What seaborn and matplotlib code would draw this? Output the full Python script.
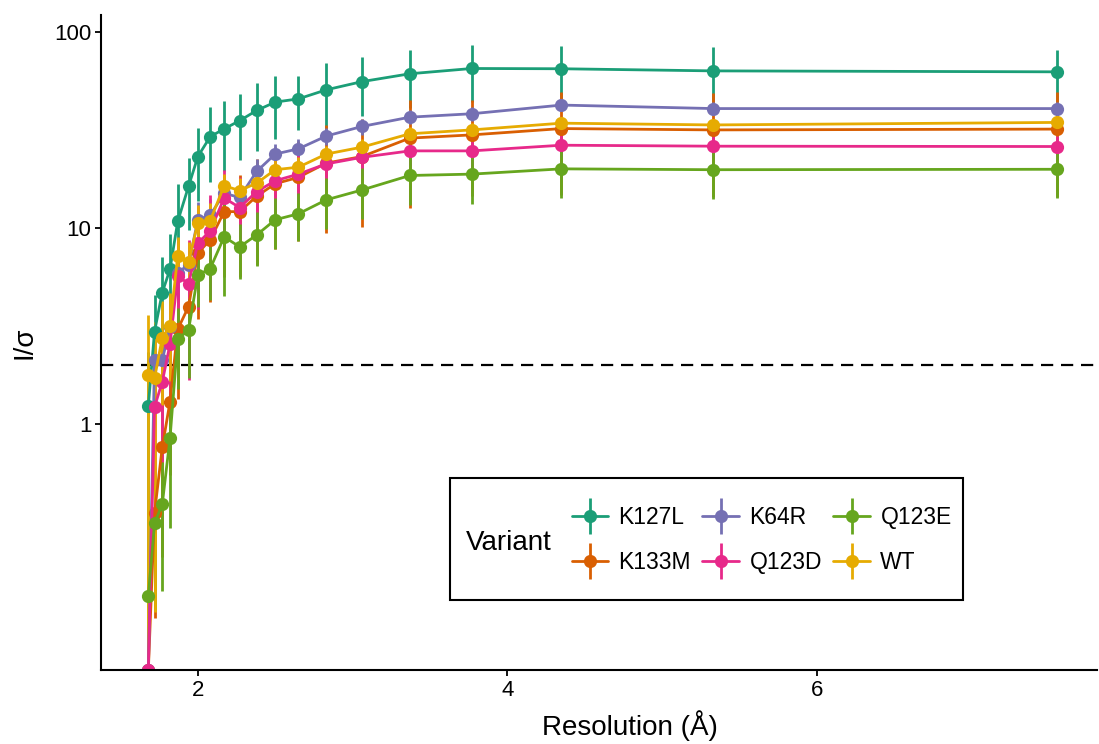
import numpy as np
import pandas as pd
import matplotlib
matplotlib.use("Agg")
import matplotlib.pyplot as plt
import seaborn as sns
from matplotlib.lines import Line2D
from matplotlib.legend_handler import HandlerTuple
from matplotlib.patches import Rectangle
from matplotlib.ticker import NullLocator

# Resolution shells (Å), low to high resolution
resolution = [7.55, 5.33, 4.35, 3.77, 3.37, 3.06, 2.83, 2.65, 2.50, 2.38,
              2.27, 2.17, 2.08, 2.00, 1.94, 1.87, 1.82, 1.77, 1.72, 1.68]

variants = ["K127L", "K133M", "K64R", "Q123D", "Q123E", "WT"]

# Mean I/sigma per shell
isig_K127L = [62.5, 63.2, 64.8, 65.0, 61.1, 55.7, 50.6, 45.5, 43.8, 39.7,
              35.2, 32.0, 29.2, 23.1, 16.3, 10.8, 6.15, 4.68, 2.96, 1.24]
isig_K133M = [31.9, 31.6, 32.1, 29.8, 28.7, 23.1, 21.4, 18.1, 16.8, 14.5,
              12.1, 12.1, 8.7, 7.43, 3.97, 3.04, 1.30, 0.76, 0.352, 0.0]
isig_K64R = [40.6, 40.6, 42.3, 38.2, 36.7, 32.9, 29.4, 25.3, 23.8, 19.4,
             14.3, 15.0, 11.6, 11.0, 6.5, 5.9, 3.11, 2.12, 2.12, 0.0]
isig_Q123D = [26.0, 26.1, 26.4, 24.7, 24.7, 22.9, 21.2, 18.8, 17.4, 15.3,
              12.7, 14.2, 9.66, 8.35, 5.18, 5.69, 2.55, 1.64, 1.22, 0.0]
isig_Q123E = [19.9, 19.8, 20.0, 18.8, 18.5, 15.6, 13.9, 11.8, 11.0, 9.2,
              8.0, 9.0, 6.2, 5.75, 3.02, 2.70, 0.845, 0.39, 0.311, 0.133]
isig_WT = [34.5, 33.5, 34.2, 31.6, 30.2, 25.8, 23.8, 20.4, 19.8, 16.9,
           15.5, 16.4, 10.9, 10.6, 6.7, 7.2, 3.16, 2.75, 1.71, 1.78]

# Standard deviation of I/sigma per shell
sd_K127L = [18.5, 20.0, 20.0, 21.0, 20.0, 18.5, 18.5, 14.0, 15.5, 15.0,
            13.0, 12.6, 12.0, 9.4, 6.5, 6.0, 3.2, 2.4, 1.6, 1.1]
sd_K133M = [17.6, 17.3, 17.4, 15.3, 16.0, 13.0, 12.0, 9.5, 9.0, 8.0,
            6.5, 6.5, 4.5, 4.0, 2.2, 1.7, 0.75, 0.55, 0.25, 0.0]
sd_K64R = [3.0, 3.0, 3.0, 3.0, 3.0, 3.0, 3.0, 3.0, 3.0, 3.0,
           3.0, 3.0, 2.5, 2.5, 1.5, 1.5, 1.0, 0.8, 0.8, 0.0]
sd_Q123D = [3.5, 3.5, 3.5, 4.0, 4.0, 4.5, 4.5, 5.0, 5.0, 5.0,
            5.5, 5.5, 5.1, 4.5, 3.5, 3.0, 1.5, 1.0, 0.8, 0.0]
sd_Q123E = [5.7, 5.7, 5.8, 5.5, 5.4, 4.5, 4.0, 3.2, 3.2, 2.8,
            2.5, 4.5, 1.9, 1.8, 1.3, 1.2, 0.55, 0.25, 0.2, 0.1]
sd_WT = [2.5, 2.5, 2.5, 2.5, 2.5, 2.5, 2.5, 2.5, 2.5, 2.5,
         2.5, 2.5, 2.5, 2.5, 1.8, 1.8, 1.5, 1.5, 1.6, 1.8]

means = dict(zip(variants, [isig_K127L, isig_K133M, isig_K64R,
                            isig_Q123D, isig_Q123E, isig_WT]))
sds = dict(zip(variants, [sd_K127L, sd_K133M, sd_K64R,
                          sd_Q123D, sd_Q123E, sd_WT]))

df = pd.concat([
    pd.DataFrame({"variant": v, "resolution": resolution,
                  "isigma": means[v], "sd": sds[v]})
    for v in variants
], ignore_index=True)

Y_LO, Y_HI = 0.0556, 122.0
X_LO, X_HI = 1.374, 7.81

# Zero or negative values land on the lower panel edge of the log axis
df["y_plot"] = df["isigma"].clip(lower=Y_LO)
df["lo"] = (df["isigma"] - df["sd"]).clip(lower=Y_LO)
df["hi"] = df["isigma"] + df["sd"]

sns.set_theme(style="ticks")
plt.rcParams["font.family"] = ["Liberation Sans", "DejaVu Sans"]
plt.rcParams["text.color"] = "black"
plt.rcParams["axes.labelcolor"] = "black"

palette = dict(zip(variants, sns.color_palette("Dark2", 6)))

MS = 9.5
LW = 2.0

fig = plt.figure(figsize=(10.99, 7.44), dpi=100)
ax = fig.add_axes([0.0919, 0.0995, 0.9061, 0.8805])

ax.axhline(2, color="black", ls=(0, (5.5, 3.5)), lw=1.6, zorder=0.5)

for v in variants:
    sub = df[df["variant"] == v]
    ax.vlines(sub["resolution"], sub["lo"], sub["hi"],
              color=palette[v], lw=LW, zorder=1)

sns.lineplot(data=df, x="resolution", y="y_plot", hue="variant",
             hue_order=variants, palette=palette, marker="o",
             markersize=MS, markeredgewidth=0, linewidth=LW,
             estimator=None, errorbar=None, legend=False, ax=ax)

ax.set_yscale("log")
ax.set_ylim(Y_LO, Y_HI)
ax.set_xlim(X_LO, X_HI)
ax.set_yticks([1, 10, 100])
ax.set_yticklabels(["1", "10", "100"])
ax.yaxis.set_minor_locator(NullLocator())
ax.set_xticks([2, 4, 6])
ax.set_xticklabels(["2", "4", "6"])

for side in ["top", "right"]:
    ax.spines[side].set_visible(False)
for side in ["left", "bottom"]:
    ax.spines[side].set_linewidth(1.5)
    ax.spines[side].set_color("black")
ax.tick_params(axis="both", length=4, width=1.3, color="black",
               labelsize=16, labelcolor="black", pad=3)

ax.set_xlabel("Resolution (Å)", fontsize=20)
ax.xaxis.set_label_coords(0.531, -0.062)
ax.set_ylabel("I/σ", fontsize=20, labelpad=12)

# Legend: framed box with the title on the left, entries in 2 rows x 3 columns
handles = [
    (Line2D([], [], color=palette[v], lw=LW, marker="o", markersize=MS,
            markeredgewidth=0),
     Line2D([], [], color=palette[v], lw=0, marker="|", markersize=26,
            markeredgewidth=LW))
    for v in variants
]
box = Rectangle((0.35, 0.107), 0.516, 0.186, transform=ax.transAxes,
                facecolor="white", edgecolor="black", lw=1.5, zorder=5)
ax.add_patch(box)
ax.text(0.366, 0.194, "Variant", transform=ax.transAxes, fontsize=20,
        ha="left", va="center", zorder=6)
leg = ax.legend(handles, variants,
                handler_map={tuple: HandlerTuple(ndivide=1, pad=0)},
                ncol=3, frameon=False, fontsize=16.5, loc="center left",
                bbox_to_anchor=(0.461, 0.198), borderpad=0,
                handlelength=1.6, handletextpad=0.45, columnspacing=0.5,
                labelspacing=0.95)
leg.set_zorder(7)

fig.savefig("out.png", dpi=100)
